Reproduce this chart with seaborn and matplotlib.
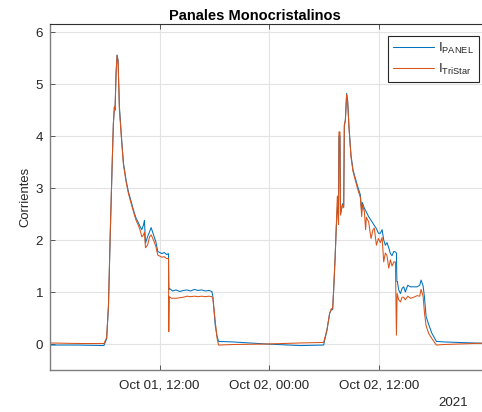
import matplotlib
matplotlib.use("Agg")
import matplotlib.pyplot as plt
import matplotlib.dates as mdates
import numpy as np
import pandas as pd
import seaborn as sns

# Hours elapsed since 2021-10-01 00:00 and measured currents for each sensor
horas_panel = [
    0.0, 3.0, 5.9, 6.2, 6.4, 6.58, 6.8, 6.94, 7.05, 7.12, 7.23, 7.34, 7.45, 7.6,
    7.85, 8.04, 8.33, 8.58, 8.84, 9.13, 9.42, 9.68, 9.86, 10.05, 10.23, 10.34,
    10.45, 10.67, 10.9, 11.07, 11.33, 11.58, 11.8, 12.24, 12.5, 12.79, 12.97,
    13.02, 13.08, 13.4, 13.8, 14.2, 14.6, 15.0, 15.4, 15.8, 16.2, 16.6, 17.0,
    17.4, 17.72, 17.83, 18.08, 18.27, 18.45, 20.0, 23.7, 27.4, 29.95, 30.32,
    30.61, 30.79, 30.94, 31.05, 31.2, 31.34, 31.45, 31.52, 31.58, 31.63, 31.74,
    31.8, 31.92, 32.03, 32.15, 32.22, 32.33, 32.47, 32.58, 32.73, 32.95, 33.17,
    33.42, 33.68, 33.97, 34.12, 34.19, 34.41, 34.63, 34.88, 35.14, 35.36, 35.5,
    35.73, 35.95, 36.16, 36.35, 36.53, 36.71, 36.89, 37.08, 37.26, 37.44, 37.63,
    37.81, 37.92, 37.97, 38.03, 38.17, 38.36, 38.54, 38.72, 38.9, 39.16, 39.45,
    39.82, 40.18, 40.47, 40.62, 40.84, 40.99, 41.17, 41.46, 41.82, 42.3, 43.1,
    48.0,
]
i_panel = [
    -0.02, -0.02, -0.03, 0.10, 0.72, 2.0, 3.41, 4.24, 4.56, 4.5, 5.2, 5.56, 5.46,
    4.56, 3.92, 3.48, 3.15, 2.93, 2.77, 2.58, 2.42, 2.33, 2.26, 2.2, 2.29, 2.38,
    1.94, 2.06, 2.16, 2.24, 2.1, 1.97, 1.78, 1.74, 1.76, 1.72, 1.74,
    1.05, 1.07, 1.02, 1.04, 1.01, 1.03, 1.04, 1.02, 1.05, 1.03, 1.04, 1.02,
    1.03, 1.01, 0.91, 0.37, 0.16, 0.05, 0.04, 0.0, -0.03, -0.02, 0.27,
    0.59, 0.66, 0.66, 1.04, 1.62, 2.26, 2.6, 2.8, 2.35, 4.0, 4.0,
    2.5, 2.61, 2.7, 2.65, 4.2, 4.3, 4.82, 4.69, 4.18, 3.63, 3.35,
    3.19, 3.03, 2.87, 2.55, 2.72, 2.61, 2.54, 2.45, 2.38, 2.32, 2.28,
    2.22, 2.13, 2.13, 2.2, 2.0, 1.9, 1.95, 1.85, 1.74, 1.7, 1.78,
    1.77, 1.75, 1.2, 1.2, 1.04, 0.97, 1.07, 1.1, 1.0, 1.13, 1.1,
    1.1, 1.1, 1.13, 1.23, 1.12, 0.9, 0.53, 0.37, 0.2, 0.05, 0.04,
    0.01,
]

horas_tristar = [
    0.0, 3.0, 5.9, 6.2, 6.4, 6.58, 6.8, 6.94, 7.05, 7.12, 7.23, 7.34, 7.45, 7.6,
    7.85, 8.04, 8.33, 8.58, 8.84, 9.13, 9.42, 9.68, 9.86, 10.05, 10.23, 10.34,
    10.45, 10.67, 10.9, 11.07, 11.33, 11.58, 11.8, 12.24, 12.5, 12.79, 12.97,
    13.0, 13.05, 13.3, 13.8, 14.2, 14.6, 15.0, 15.4, 15.8, 16.2, 16.6, 17.0,
    17.4, 17.72, 17.83, 18.08, 18.3, 18.45, 20.0, 23.7, 27.4, 29.95, 30.32,
    30.61, 30.79, 30.94, 31.05, 31.2, 31.34, 31.45, 31.52, 31.58, 31.63, 31.74,
    31.8, 31.92, 32.03, 32.15, 32.22, 32.33, 32.47, 32.58, 32.73, 32.95, 33.17,
    33.42, 33.68, 33.97, 34.12, 34.19, 34.41, 34.55, 34.63, 34.88, 35.14, 35.36,
    35.5, 35.73, 35.95, 36.16, 36.35, 36.53, 36.71, 36.89, 37.08, 37.26, 37.44,
    37.63, 37.81, 37.92, 38.0, 38.17, 38.36, 38.54, 38.72, 38.9, 39.16, 39.45,
    39.82, 40.18, 40.47, 40.62, 40.84, 40.99, 41.17, 41.46, 41.82, 42.3, 43.1,
    48.0,
]
i_tristar = [
    0.02, 0.01, 0.01, 0.12, 0.75, 2.05, 3.45, 4.26, 4.56, 4.5, 5.2, 5.55, 5.44,
    4.5, 3.88, 3.45, 3.12, 2.9, 2.73, 2.55, 2.38, 2.28, 2.19, 2.06, 2.1, 2.15,
    1.85, 1.9, 2.06, 2.1, 2.0, 1.88, 1.71, 1.67, 1.68, 1.64, 1.65,
    0.24, 0.91, 0.88, 0.88, 0.89, 0.90, 0.92, 0.91, 0.92, 0.91, 0.92, 0.91,
    0.92, 0.91, 0.88, 0.45, 0.10, -0.02, -0.01, 0.0, 0.02, 0.03, 0.27,
    0.59, 0.68, 0.68, 1.04, 1.62, 2.26, 2.83, 2.85, 2.3, 4.08, 4.08,
    2.48, 2.6, 2.68, 2.62, 4.22, 4.3, 4.8, 4.66, 4.15, 3.6, 3.32,
    3.15, 2.98, 2.82, 2.45, 2.68, 2.55, 2.2, 2.44, 2.35, 2.03, 2.2,
    2.23, 1.9, 2.03, 1.95, 2.05, 1.58, 1.75, 1.7, 1.46, 1.62, 1.5,
    1.58, 1.58, 0.17, 0.97, 0.85, 0.81, 0.9, 0.9, 0.85, 0.92, 0.88,
    0.9, 0.93, 0.92, 1.05, 0.92, 0.6, 0.35, 0.2, 0.1, -0.02, -0.01,
    0.02,
]

series = ["PANEL", "TriStar"]
colores = ["#0072BD", "#D95319"]
etiquetas = [r"$\mathregular{I_{PANEL}}$", r"$\mathregular{I_{TriStar}}$"]
ticks_y = [0, 1, 2, 3, 4, 5, 6]
ticks_x = ["2021-10-01 12:00", "2021-10-02 00:00", "2021-10-02 12:00"]

inicio = pd.Timestamp("2021-10-01 00:00")
df = pd.concat([
    pd.DataFrame({"tiempo": inicio + pd.to_timedelta(horas_panel, unit="h"),
                  "corriente": i_panel, "serie": series[0]}),
    pd.DataFrame({"tiempo": inicio + pd.to_timedelta(horas_tristar, unit="h"),
                  "corriente": i_tristar, "serie": series[1]}),
], ignore_index=True)

sns.set_theme(style="white")
plt.rcParams["font.family"] = ["Liberation Sans", "DejaVu Sans"]
plt.rcParams["mathtext.default"] = "regular"

W, H = 482, 412
fig = plt.figure(figsize=(W / 100, H / 100), dpi=100)
# axes box in pixels: left 50, right 488.5 (past the figure edge), top 24.3, bottom 370
AX_L, AX_R, AX_T, AX_B = 50, 488.5, 24.3, 370
ax = fig.add_axes([AX_L / W, (H - AX_B) / H, (AX_R - AX_L) / W, (AX_B - AX_T) / H])

sns.lineplot(data=df, x="tiempo", y="corriente", hue="serie",
             palette=dict(zip(series, colores)), estimator=None, sort=False,
             linewidth=0.75, legend=False, ax=ax)

ax.set_xlim(inicio, inicio + pd.Timedelta(hours=48))
ax.set_ylim(-0.5, 6.15)
ax.set_yticks(ticks_y)
ax.set_xticks(pd.to_datetime(ticks_x))
ax.xaxis.set_major_formatter(mdates.DateFormatter("%b %d, %H:%M"))

ax.grid(True, color="#e3e3e3", linewidth=0.8)
ax.set_axisbelow(True)
for nombre, s in ax.spines.items():
    s.set_visible(True)
    if nombre in ("left", "bottom"):
        s.set_color("#7f7f7f")
        s.set_linewidth(1.0)
    else:
        s.set_color("#303030")
        s.set_linewidth(0.8)

ax.tick_params(axis="both", which="major", direction="in", length=3.5,
               width=0.6, colors="#404040", labelsize=9.6, labelcolor="#262626",
               top=True, right=True, bottom=True, left=True)
ax.tick_params(axis="x", pad=7)
ax.tick_params(axis="y", pad=5)

ax.set_xlabel("")
ax.set_ylabel("Corrientes", fontsize=9.4, color="#262626", labelpad=3)
ax.set_title("Panales Monocristalinos", fontsize=10.5, fontweight="bold",
             color="black", pad=3, x=(255 - AX_L) / (AX_R - AX_L))

handles = ax.get_lines()[:2]
leg = ax.legend(handles, etiquetas, loc="upper left",
                bbox_to_anchor=((388.3 - AX_L) / (AX_R - AX_L),
                                1 - (35.7 - AX_T) / (AX_B - AX_T)),
                borderaxespad=0, fontsize=9.5, frameon=True, fancybox=False,
                edgecolor="#262626", framealpha=1, handlelength=3.1,
                handletextpad=0.3, borderpad=0.38, labelspacing=0.45)
leg.get_frame().set_linewidth(0.8)

fig.text(468 / W, 1 - 403 / H, "2021", ha="right", va="center",
         fontsize=9.6, color="#262626")

fig.savefig("out.png", dpi=100)
